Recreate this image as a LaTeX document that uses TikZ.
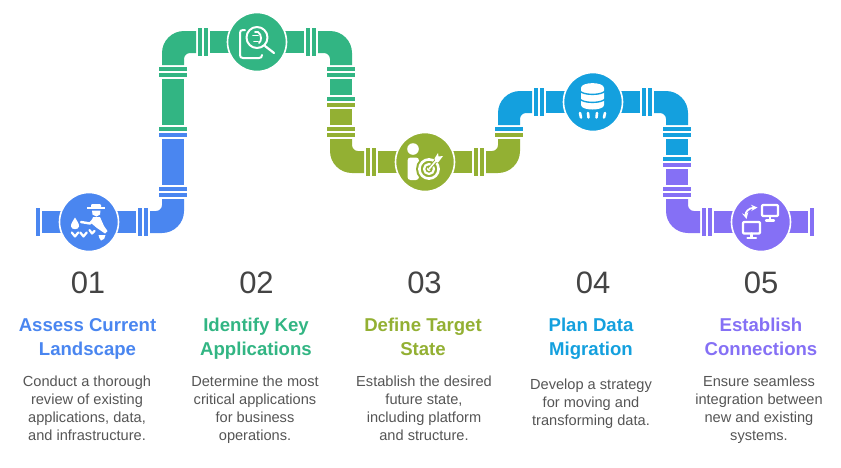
\documentclass[tikz,border=0pt]{standalone}
\usepackage{fontspec}
\setmainfont{Liberation Sans}
\usetikzlibrary{calc}
\definecolor{colA}{HTML}{4A86F0}
\definecolor{colB}{HTML}{32B583}
\definecolor{colC}{HTML}{93B033}
\definecolor{colD}{HTML}{14A0DE}
\definecolor{colE}{HTML}{8570F5}
\definecolor{numgray}{HTML}{444444}
\definecolor{bodygray}{HTML}{555555}
\tikzset{
  ring/.style={circle, fill=#1, draw=white, line width=1.6pt, minimum size=59pt, inner sep=0pt},
  numtext/.style={anchor=base, text=numgray, font=\fontsize{31}{31}\selectfont},
  titletext/.style={anchor=base, align=center, text=#1, font=\fontsize{18.6}{24}\bfseries\selectfont},
  bodytext/.style={anchor=base, align=center, text=bodygray, font=\fontsize{14.6}{18}\selectfont},
  iconline/.style={draw=white, line width=#1, line cap=round, line join=round},
  iconline/.default=2pt
}
\begin{document}
\begin{tikzpicture}[x=1pt, y=-1pt]
\useasboundingbox (0,0) rectangle (841,467);

% straight lengths
\foreach \xa/\ya/\xb/\yb/\c in {
  42/211/136/233/colA, 162/139/184/185/colA,
  162/79/184/125/colB, 210/31/304/53/colB, 330/79/352/95/colB,
  330/109/352/125/colC, 378/151/472/173/colC,
  546/91/640/113/colD, 666/139/688/155/colD,
  666/169/688/185/colE, 714/211/808/233/colE}
  \fill [\c] (\xa,\ya) rectangle (\xb,\yb);

% elbows
\fill [colA] (150,211) -- (150,233) [rounded corners=22pt] -- (184,233) [sharp corners] -- (184,199)
  -- (162,199) [rounded corners=6pt] -- (162,211) [sharp corners] -- cycle;
\fill [colB] (196,53) -- (196,31) [rounded corners=22pt] -- (162,31) [sharp corners] -- (162,65)
  -- (184,65) [rounded corners=6pt] -- (184,53) [sharp corners] -- cycle;
\fill [colB] (318,53) -- (318,31) [rounded corners=22pt] -- (352,31) [sharp corners] -- (352,65)
  -- (330,65) [rounded corners=6pt] -- (330,53) [sharp corners] -- cycle;
\fill [colC] (364,151) -- (364,173) [rounded corners=22pt] -- (330,173) [sharp corners] -- (330,139)
  -- (352,139) [rounded corners=6pt] -- (352,151) [sharp corners] -- cycle;
\fill [colC] (486,151) -- (486,173) [rounded corners=22pt] -- (520,173) [sharp corners] -- (520,139)
  -- (498,139) [rounded corners=6pt] -- (498,151) [sharp corners] -- cycle;
\fill [colD] (532,113) -- (532,91) [rounded corners=22pt] -- (498,91) [sharp corners] -- (498,125)
  -- (520,125) [rounded corners=6pt] -- (520,113) [sharp corners] -- cycle;
\fill [colD] (654,113) -- (654,91) [rounded corners=22pt] -- (688,91) [sharp corners] -- (688,125)
  -- (666,125) [rounded corners=6pt] -- (666,113) [sharp corners] -- cycle;
\fill [colE] (700,211) -- (700,233) [rounded corners=22pt] -- (666,233) [sharp corners] -- (666,199)
  -- (688,199) [rounded corners=6pt] -- (688,211) [sharp corners] -- cycle;

% flanges across horizontal lengths
\foreach \x/\y/\c in {
  36/222/colA, 138/222/colA, 144/222/colA,
  198/42/colB, 204/42/colB, 306/42/colB, 312/42/colB,
  366/162/colC, 372/162/colC, 474/162/colC, 480/162/colC,
  534/102/colD, 540/102/colD, 642/102/colD, 648/102/colD,
  702/222/colE, 708/222/colE, 810/222/colE}
  \fill [\c] (\x,\y-14) rectangle (\x+4,\y+14);

% flanges across vertical lengths
\foreach \x/\y/\c in {
  173/187/colA, 173/193/colA, 173/133/colA, 173/127/colB, 173/73/colB, 173/67/colB,
  341/67/colB, 341/73/colB, 341/97/colB, 341/103/colC, 341/127/colC, 341/133/colC,
  509/133/colC, 509/127/colD,
  677/127/colD, 677/133/colD, 677/157/colD, 677/163/colE, 677/187/colE, 677/193/colE}
  \fill [\c] (\x-14,\y) rectangle (\x+14,\y+4);

% discs
\node [ring=colA] (discA) at (89,222) {};
\node [ring=colB] (discB) at (257,42) {};
\node [ring=colC] (discC) at (425,162) {};
\node [ring=colD] (discD) at (593,102) {};
\node [ring=colE] (discE) at (761,222) {};

% icon: worker
\fill [white] (86.5,206.5) rectangle (105,209);
\fill [white, rounded corners=1pt] (91,204) rectangle (101,208);
\fill [white] (92,210.5) -- (100.5,210.5) -- (100,214.5) -- (96.5,216.5) -- (92.5,214.5) -- cycle;
\fill [white] (93,217) -- (100,217) -- (104,226) -- (107.5,231) -- (105,233.5) -- (97,228) -- (91,223) -- cycle;
\draw [iconline=2.4pt] (94,219) -- (90,223.5) -- (81,222);
\fill [white] (75,217.5) .. controls (73,221) and (70.5,224) .. (71,226.5) .. controls (71.5,230) and (78.5,230) .. (79,226.5) .. controls (79.5,224) and (77,221) .. (75,217.5) -- cycle;
\foreach \x in {75,83.5}
  \draw [iconline=2.2pt] (\x-3.2,232.5) -- (\x,236.5) -- (\x+3.2,232.5);
\draw [iconline=2.2pt] (89.5,230) -- (92,233.5) -- (94.5,231);
\fill [white] (98.5,235) -- (105.5,235) .. controls (105.5,238) and (103.5,240.5) .. (101,240.5) .. controls (100,239) and (98.5,237) .. (98.5,235) -- cycle;

% icon: document and lens
\draw [iconline=2pt] (245,30) -- (243,30) .. controls (241,30) and (240,31) .. (240,33) -- (240,55)
  .. controls (240,57) and (241,58) .. (243,58) -- (259,58) .. controls (261,58) and (262,57) .. (262,55);
\draw [iconline=2pt] (257,37.5) circle (10.5);
\draw [iconline=2.2pt] (265,46) -- (274,53);
\draw [iconline=1.8pt] (253,35.5) -- (258,35.5) (254,41.5) -- (258,41.5);
\draw [iconline=1.8pt] (255,32) -- (258,32) .. controls (260,33) and (261,36) .. (261,38) .. controls (261,40) and (260.5,42) .. (259,43);

% icon: person and target
\fill [white] (413,149) circle (5.8);
\fill [white, rounded corners=3pt] (407.5,157.5) rectangle (419,180);
\fill [colC] (429,169) circle (13);
\foreach \r/\w in {9.6/2.6, 5/2.2}
  \draw [white, line width=\w pt] (429,169) circle (\r);
\fill [white] (429,169) circle (2);
\draw [colC, line width=3.4pt] (429,169) -- (440,156);
\draw [white, line width=1.6pt] (429,169) -- (437,159.5);
\fill [white] (434.5,158.5) -- (438,153) -- (438.5,156.5) -- (443,156) -- (438.5,162) -- (435.5,162) -- cycle;

% icon: data store
\fill [white] (581,88) .. controls (581,81.5) and (604,81.5) .. (604,88) -- (604,105)
  .. controls (604,111) and (581,111) .. (581,105) -- cycle;
\foreach \y in {92,100}
  \draw [colD, line width=1.4pt] (580,\y-1) .. controls (583,\y+3.5) and (602,\y+3.5) .. (605,\y-1);
\foreach \xa/\xb in {580/581, 588/588.5, 597/596.5, 605/604}
  \draw [iconline=2.6pt] (\xa,113) -- (\xb,117.5);

% icon: two screens
\draw [iconline=2.2pt, rounded corners=1pt] (762,205) rectangle (778,216);
\draw [iconline=2.2pt] (770,216) -- (770,220) (766,220.5) -- (774,220.5);
\draw [iconline=2.2pt, rounded corners=1pt] (743,222) rectangle (760,233.5);
\draw [iconline=2.2pt] (751.5,233.5) -- (751.5,237.5) (747.5,238) -- (756,238);
\draw [white, line width=1.8pt, stealth-stealth] (746.5,219) .. controls (745,212) and (749,208) .. (757.5,207.5);

% numbers
\foreach \i/\x in {01/88, 02/256.5, 03/424.5, 04/593, 05/761}
  \node [numtext] (num\i) at (\x,293) {\i};

% titles
\node [titletext=colA] (titleA) at (87.5,355) {Assess Current\\Landscape};
\node [titletext=colB] (titleB) at (256,355) {Identify Key\\Applications};
\node [titletext=colC] (titleC) at (423,355) {Define Target\\State};
\node [titletext=colD] (titleD) at (591,355) {Plan Data\\Migration};
\node [titletext=colE] (titleE) at (761,355) {Establish\\Connections};

% bodies
\node [bodytext] (bodyA) at (87,440) {Conduct a thorough\\review of existing\\applications, data,\\and infrastructure.};
\node [bodytext] (bodyB) at (255,440) {Determine the most\\critical applications\\for business\\operations.};
\node [bodytext] (bodyC) at (424,440) {Establish the desired\\future state,\\including platform\\and structure.};
\node [bodytext] (bodyD) at (591,425) {Develop a strategy\\for moving and\\transforming data.};
\node [bodytext] (bodyE) at (759,440) {Ensure seamless\\integration between\\new and existing\\systems.};
\end{tikzpicture}
\end{document}
